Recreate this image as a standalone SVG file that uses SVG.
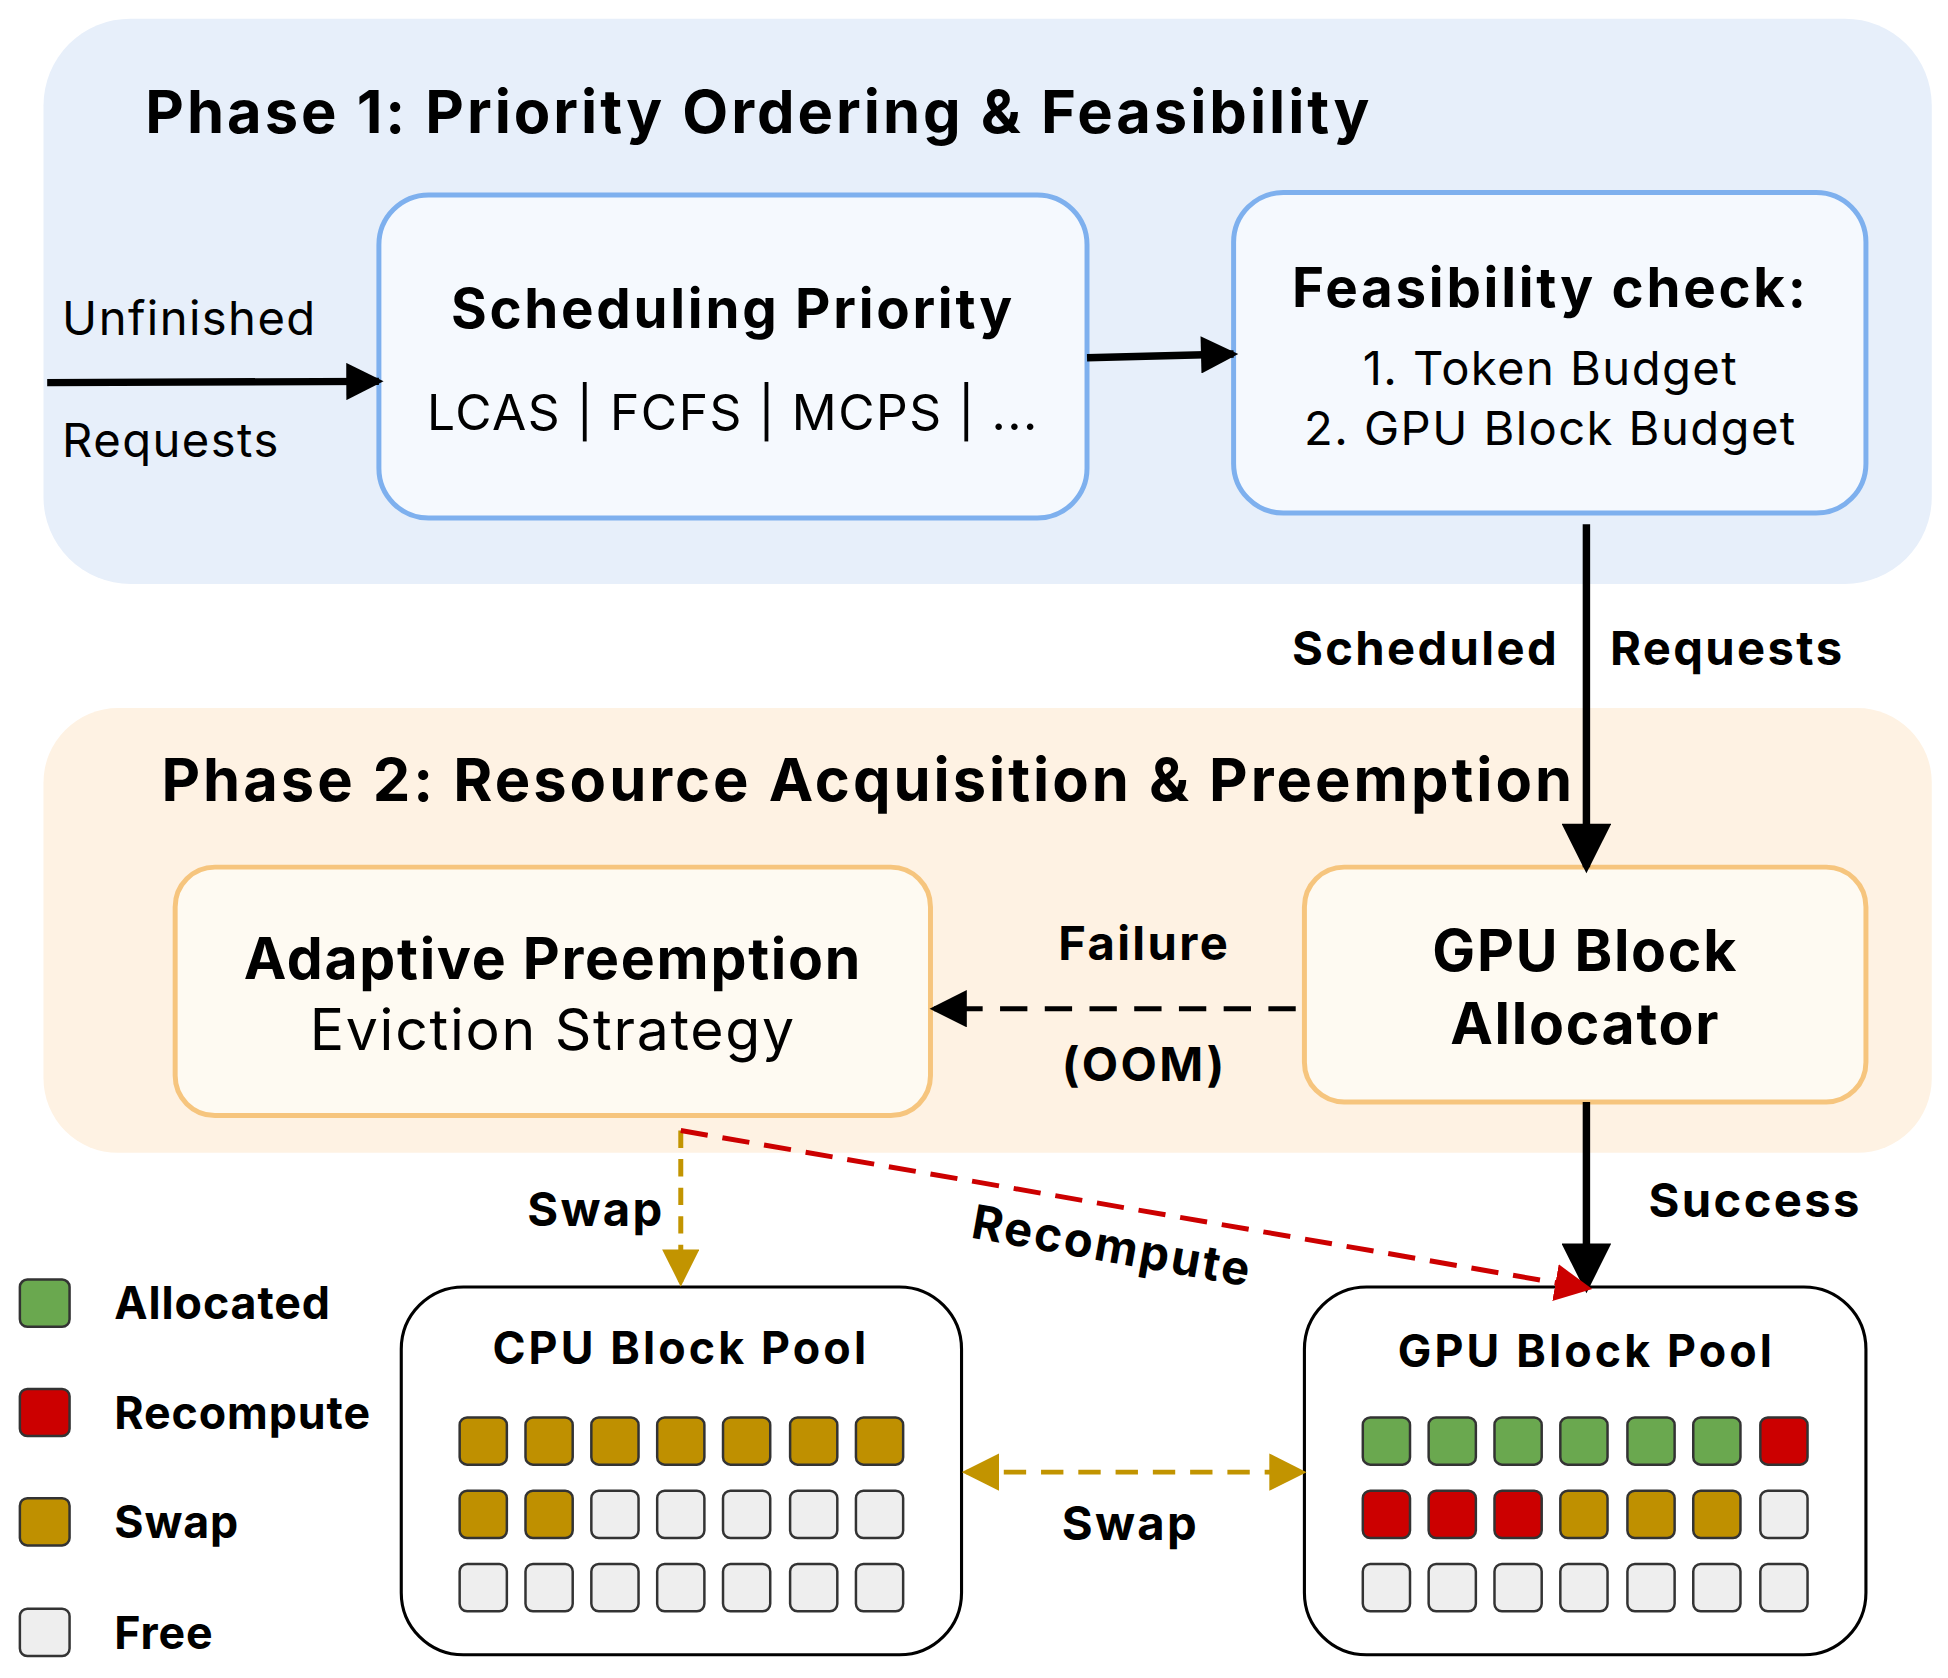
<svg xmlns="http://www.w3.org/2000/svg" width="1948" height="1678" viewBox="0 0 1948 1678">
<style>
text{font-family:Inter,"Liberation Sans",sans-serif;fill:#000;letter-spacing:0.03em}
.b{font-weight:700;letter-spacing:0.05em}
.c{text-anchor:middle}
.blk{stroke:#333;stroke-width:2}
.g{fill:#6aa84f}.r{fill:#cc0000}.s{fill:#bf9000}.f{fill:#eeeeee}
.pool{fill:#fff;stroke:#000;stroke-width:2.5}
</style>
<defs>
<marker id="ag" viewBox="0 0 8 8" refX="7" refY="4" markerWidth="30" markerHeight="30" orient="auto-start-reverse" markerUnits="userSpaceOnUse"><path d="M0,0L8,4L0,8z" fill="#c29400"/></marker>
<marker id="ar" viewBox="0 0 8 8" refX="7" refY="4" markerWidth="30" markerHeight="30" orient="auto" markerUnits="userSpaceOnUse"><path d="M0,0L8,4L0,8z" fill="#cc0000"/></marker>
<marker id="ab" viewBox="0 0 8 8" refX="7" refY="4" markerWidth="50" markerHeight="40" orient="auto" markerUnits="userSpaceOnUse"><path d="M0,0L8,4L0,8z" fill="#000"/></marker>
<marker id="ad" viewBox="0 0 8 8" refX="7" refY="4" markerWidth="36" markerHeight="30" orient="auto" markerUnits="userSpaceOnUse"><path d="M0,0L8,4L0,8z" fill="#000"/></marker>
</defs>
<g transform="scale(1.2423)">
<g id="phase1">
<rect x="35" y="15" width="1520" height="455" rx="70" fill="#e7effa"/>
<text x="117" y="107" class="b" font-size="48">Phase 1: Priority Ordering &amp; Feasibility</text>
</g>
<g id="phase2">
<rect x="35" y="570" width="1520" height="358" rx="60" fill="#fef2e3"/>
<text x="130" y="645" class="b" font-size="48">Phase 2: Resource Acquisition &amp; Preemption</text>
</g>
<g id="sched">
<rect x="305" y="157" width="570" height="260" rx="40" fill="#f5f9fe" stroke="#7eb0ee" stroke-width="4"/>
<text x="590" y="264" class="b c" font-size="44">Scheduling Priority</text>
<text x="590" y="346" class="c" font-size="40">LCAS | FCFS | MCPS | ...</text>
</g>
<g id="feas">
<rect x="993" y="155" width="509" height="258" rx="40" fill="#f5f9fe" stroke="#7eb0ee" stroke-width="4"/>
<text x="1248" y="247" class="b c" font-size="44">Feasibility check:</text>
<text x="1248" y="310" class="c" font-size="38">1. Token Budget</text>
<text x="1248" y="358" class="c" font-size="38">2. GPU Block Budget</text>
</g>
<g id="adaptive">
<rect x="141" y="698" width="608" height="200" rx="32" fill="#fefaf2" stroke="#f6c57e" stroke-width="4"/>
<text x="445" y="788" class="b c" font-size="46" style="letter-spacing:0.03em">Adaptive Preemption</text>
<text x="445" y="845" class="c" font-size="46">Eviction Strategy</text>
</g>
<g id="alloc">
<rect x="1050" y="698" width="452" height="189" rx="32" fill="#fefaf2" stroke="#f6c57e" stroke-width="4"/>
<text x="1276" y="782" class="b c" font-size="46" style="letter-spacing:0.03em">GPU Block</text>
<text x="1276" y="840" class="b c" font-size="46" style="letter-spacing:0.03em">Allocator</text>
</g>
<g id="cpupool">
<rect x="323" y="1036" width="451" height="296" rx="50" class="pool"/>
<text x="548" y="1098" class="b c" font-size="36" style="letter-spacing:0.07em">CPU Block Pool</text>
<g class="blk">
<rect x="370" y="1141" width="38" height="38" rx="6" class="s"/><rect x="423" y="1141" width="38" height="38" rx="6" class="s"/><rect x="476" y="1141" width="38" height="38" rx="6" class="s"/><rect x="529" y="1141" width="38" height="38" rx="6" class="s"/><rect x="582" y="1141" width="38" height="38" rx="6" class="s"/><rect x="636" y="1141" width="38" height="38" rx="6" class="s"/><rect x="689" y="1141" width="38" height="38" rx="6" class="s"/>
<rect x="370" y="1200" width="38" height="38" rx="6" class="s"/><rect x="423" y="1200" width="38" height="38" rx="6" class="s"/><rect x="476" y="1200" width="38" height="38" rx="6" class="f"/><rect x="529" y="1200" width="38" height="38" rx="6" class="f"/><rect x="582" y="1200" width="38" height="38" rx="6" class="f"/><rect x="636" y="1200" width="38" height="38" rx="6" class="f"/><rect x="689" y="1200" width="38" height="38" rx="6" class="f"/>
<rect x="370" y="1259" width="38" height="38" rx="6" class="f"/><rect x="423" y="1259" width="38" height="38" rx="6" class="f"/><rect x="476" y="1259" width="38" height="38" rx="6" class="f"/><rect x="529" y="1259" width="38" height="38" rx="6" class="f"/><rect x="582" y="1259" width="38" height="38" rx="6" class="f"/><rect x="636" y="1259" width="38" height="38" rx="6" class="f"/><rect x="689" y="1259" width="38" height="38" rx="6" class="f"/>
</g>
</g>
<g id="gpupool">
<rect x="1050" y="1036" width="452" height="296" rx="50" class="pool"/>
<text x="1277" y="1100" class="b c" font-size="36" style="letter-spacing:0.07em">GPU Block Pool</text>
<g class="blk">
<rect x="1097" y="1141" width="38" height="38" rx="6" class="g"/><rect x="1150" y="1141" width="38" height="38" rx="6" class="g"/><rect x="1203" y="1141" width="38" height="38" rx="6" class="g"/><rect x="1256" y="1141" width="38" height="38" rx="6" class="g"/><rect x="1310" y="1141" width="38" height="38" rx="6" class="g"/><rect x="1363" y="1141" width="38" height="38" rx="6" class="g"/><rect x="1417" y="1141" width="38" height="38" rx="6" class="r"/>
<rect x="1097" y="1200" width="38" height="38" rx="6" class="r"/><rect x="1150" y="1200" width="38" height="38" rx="6" class="r"/><rect x="1203" y="1200" width="38" height="38" rx="6" class="r"/><rect x="1256" y="1200" width="38" height="38" rx="6" class="s"/><rect x="1310" y="1200" width="38" height="38" rx="6" class="s"/><rect x="1363" y="1200" width="38" height="38" rx="6" class="s"/><rect x="1417" y="1200" width="38" height="38" rx="6" class="f"/>
<rect x="1097" y="1259" width="38" height="38" rx="6" class="f"/><rect x="1150" y="1259" width="38" height="38" rx="6" class="f"/><rect x="1203" y="1259" width="38" height="38" rx="6" class="f"/><rect x="1256" y="1259" width="38" height="38" rx="6" class="f"/><rect x="1310" y="1259" width="38" height="38" rx="6" class="f"/><rect x="1363" y="1259" width="38" height="38" rx="6" class="f"/><rect x="1417" y="1259" width="38" height="38" rx="6" class="f"/>
</g>
</g>
<g id="legend" class="blk">
<rect x="16" y="1030" width="40" height="38" rx="6" class="g"/>
<rect x="16" y="1118" width="40" height="38" rx="6" class="r"/>
<rect x="16" y="1206" width="40" height="38" rx="6" class="s"/>
<rect x="16" y="1295" width="40" height="38" rx="6" class="f"/>
</g>
<g id="legendtext" font-size="36">
<text x="92" y="1062" class="b" style="letter-spacing:0.02em">Allocated</text>
<text x="92" y="1150" class="b" style="letter-spacing:0.02em">Recompute</text>
<text x="92" y="1238" class="b" style="letter-spacing:0.02em">Swap</text>
<text x="92" y="1327" class="b" style="letter-spacing:0.02em">Free</text>
</g>
<g id="connectors" fill="none">
<line x1="38" y1="308" x2="305" y2="307" stroke="#000" stroke-width="6" marker-end="url(#ad)"/>
<line x1="875" y1="288" x2="993" y2="285" stroke="#000" stroke-width="6" marker-end="url(#ad)"/>
<line x1="1277" y1="422" x2="1277" y2="698" stroke="#000" stroke-width="6" marker-end="url(#ab)"/>
<line x1="1277" y1="887" x2="1277" y2="1036" stroke="#000" stroke-width="6" marker-end="url(#ab)"/>
<line x1="1043" y1="812" x2="752" y2="812" stroke="#000" stroke-width="4" stroke-dasharray="22,14" marker-end="url(#ad)"/>
<line x1="548" y1="910" x2="548" y2="1032" stroke="#c29400" stroke-width="4" stroke-dasharray="14,9" marker-end="url(#ag)"/>
<line x1="548" y1="910" x2="1278" y2="1037" stroke="#cc0000" stroke-width="4" stroke-dasharray="22,12" marker-end="url(#ar)"/>
<line x1="778" y1="1185" x2="1048" y2="1185" stroke="#c29400" stroke-width="4" stroke-dasharray="18,12" marker-start="url(#ag)" marker-end="url(#ag)"/>
</g>
<g id="labels" font-size="38">
<text x="50" y="270">Unfinished</text>
<text x="50" y="368">Requests</text>
<text x="1255" y="535" class="b" text-anchor="end">Scheduled</text>
<text x="1296" y="535" class="b">Requests</text>
<text x="921" y="773" class="b c">Failure</text>
<text x="921" y="870" class="b c">(OOM)</text>
<text x="1327" y="980" class="b">Success</text>
<text x="535" y="987" class="b" text-anchor="end">Swap</text>
<text x="0" y="0" class="b c" transform="translate(893,1016) rotate(10)">Recompute</text>
<text x="910" y="1240" class="b c">Swap</text>
</g>
</g>
</svg>
